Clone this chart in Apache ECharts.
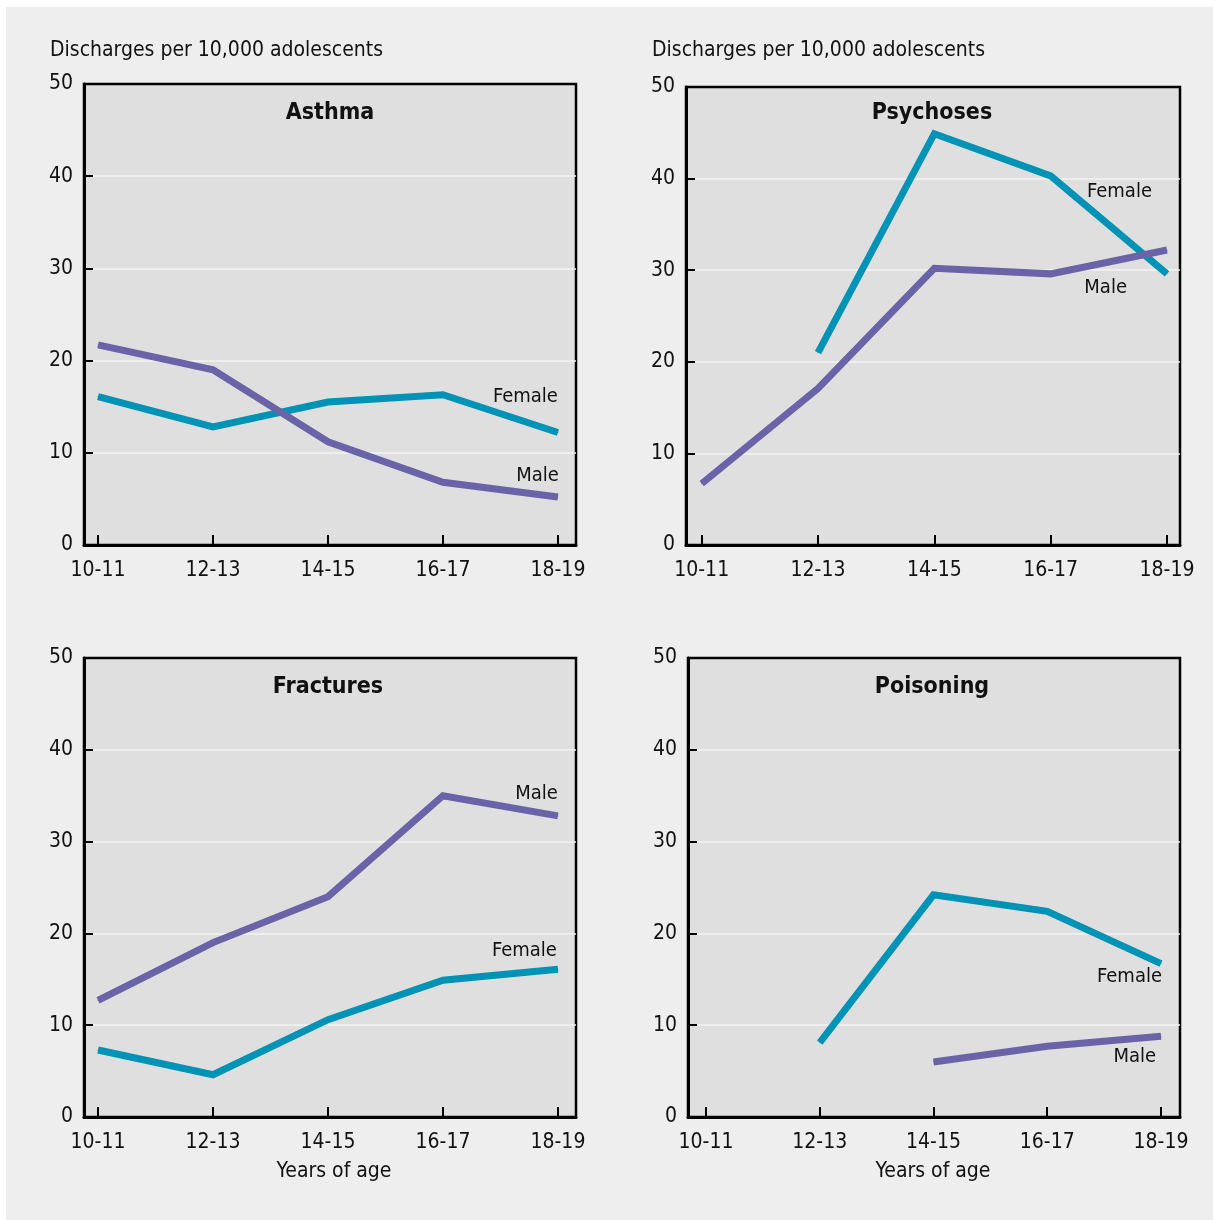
<!DOCTYPE html>
<html>
<head>
<meta charset="utf-8">
<script src="https://cdn.jsdelivr.net/npm/echarts@6/dist/echarts.min.js"></script>
<style>
  html, body { margin: 0; padding: 0; background: #ffffff; }
  #chart { position: absolute; left: 6px; top: 7px; width: 1207px; height: 1213px; }
</style>
</head>
<body>
<div id="chart"></div>
<script>
// ---- Data ----
const ageGroups = ['10-11', '12-13', '14-15', '16-17', '18-19'];
const yTicks = [0, 10, 20, 30, 40, 50];

const panelTitles = ['Asthma', 'Psychoses', 'Fractures', 'Poisoning'];

const asthmaFemale = [16.1, 12.8, 15.5, 16.3, 12.2];
const asthmaMale = [21.7, 19.0, 11.2, 6.8, 5.2];

const psychosesFemale = [null, 21.0, 44.9, 40.3, 29.6];
const psychosesMale = [6.7, 17.1, 30.2, 29.6, 32.2];

const fracturesFemale = [7.3, 4.6, 10.6, 14.9, 16.1];
const fracturesMale = [12.7, 19.0, 24.0, 35.0, 32.8];

const poisoningFemale = [null, 8.1, 24.2, 22.4, 16.7];
const poisoningMale = [null, null, 6.0, 7.7, 8.8];

const yCaption = 'Discharges per 10,000 adolescents';
const xCaption = 'Years of age';

// ---- Style ----
const FONT = "'Liberation Sans Narrow', 'DejaVu Sans Condensed', 'Arial Narrow', sans-serif";
const TEAL = '#0093b6';
const PURPLE = '#6b63a8';
const TXT = '#111111';

const grids = [
  { left: 78, top: 77, width: 492, height: 461 },
  { left: 680, top: 80, width: 494, height: 458 },
  { left: 78, top: 651, width: 492, height: 459 },
  { left: 682, top: 651, width: 492, height: 459 }
];
const xRanges = [
  [-0.122, 4.157],
  [-0.135, 4.112],
  [-0.122, 4.157],
  [-0.158, 4.167]
];

const panelSeries = [
  [
    { name: 'Female', data: asthmaFemale, color: TEAL, offset: [0, -36] },
    { name: 'Male', data: asthmaMale, color: PURPLE, offset: [1, -21] }
  ],
  [
    { name: 'Female', data: psychosesFemale, color: TEAL, offset: [-15, -82] },
    { name: 'Male', data: psychosesMale, color: PURPLE, offset: [-40, 38] }
  ],
  [
    { name: 'Female', data: fracturesFemale, color: TEAL, offset: [-1, -18] },
    { name: 'Male', data: fracturesMale, color: PURPLE, offset: [0, -22] }
  ],
  [
    { name: 'Female', data: poisoningFemale, color: TEAL, offset: [1, 13] },
    { name: 'Male', data: poisoningMale, color: PURPLE, offset: [-5, 21] }
  ]
];

const idx = ageGroups.map((_, i) => i);

const option = {
  backgroundColor: '#eeeeee',
  animation: false,
  grid: grids.map(g => Object.assign({
    show: true,
    backgroundColor: '#dfdfdf',
    borderColor: '#000',
    borderWidth: 2.5,
    containLabel: false
  }, g)),
  xAxis: grids.map((g, i) => ({
    type: 'value',
    gridIndex: i,
    min: xRanges[i][0],
    max: xRanges[i][1],
    axisLine: { show: true, onZero: false, lineStyle: { color: '#000', width: 3 } },
    axisTick: { show: true, inside: true, length: 10, customValues: idx, lineStyle: { color: '#000', width: 2 } },
    axisLabel: {
      show: true, customValues: idx, margin: 15,
      formatter: v => ageGroups[Math.round(v)],
      fontFamily: FONT, fontSize: 21, color: TXT
    },
    splitLine: { show: false }
  })),
  yAxis: grids.map((g, i) => ({
    type: 'value',
    gridIndex: i,
    min: yTicks[0],
    max: yTicks[yTicks.length - 1],
    interval: 10,
    axisLine: { show: true, onZero: false, lineStyle: { color: '#000', width: 3 } },
    axisTick: { show: true, inside: true, length: 9, lineStyle: { color: '#000', width: 2 } },
    axisLabel: { margin: 11, padding: [7, 0, 0, 0], fontFamily: FONT, fontSize: 21, color: TXT },
    splitLine: { show: true, showMinLine: false, showMaxLine: false, lineStyle: { color: '#f3f3f3', width: 1.5 } }
  })),
  series: [],
  graphic: []
};

panelSeries.forEach((list, p) => {
  list.forEach(s => {
    const pts = [];
    s.data.forEach((v, i) => { if (v !== null) pts.push([i, v]); });
    const last = pts.length - 1;
    const data = pts.map((pt, k) => k === last ? {
      value: pt,
      label: {
        show: true, formatter: s.name, position: 'inside',
        align: 'right', verticalAlign: 'middle', offset: s.offset,
        fontFamily: FONT, fontSize: 20, color: TXT
      }
    } : { value: pt });
    option.series.push({
      type: 'line',
      name: s.name + p,
      xAxisIndex: p,
      yAxisIndex: p,
      data: data,
      symbol: 'circle',
      symbolSize: 1,
      showSymbol: true,
      itemStyle: { color: s.color },
      lineStyle: { color: s.color, width: 7, cap: 'butt', join: 'miter' },
      emphasis: { disabled: true },
      silent: true,
      z: 3
    });
  });
});

// captions and panel titles
const titlePos = [[324, 106], [926, 106], [322, 680], [926, 680]];
panelTitles.forEach((t, i) => {
  option.graphic.push({
    type: 'text', x: titlePos[i][0], y: titlePos[i][1], z: 10,
    style: { text: t, fontFamily: FONT, fontSize: 23, fontWeight: 'bold', fill: TXT, textAlign: 'center', textVerticalAlign: 'middle' }
  });
});
[[44, 44], [646, 44]].forEach(pos => {
  option.graphic.push({
    type: 'text', x: pos[0], y: pos[1], z: 10,
    style: { text: yCaption, fontFamily: FONT, fontSize: 21, fill: TXT, textAlign: 'left', textVerticalAlign: 'middle' }
  });
});
[[328, 1165], [927, 1165]].forEach(pos => {
  option.graphic.push({
    type: 'text', x: pos[0], y: pos[1], z: 10,
    style: { text: xCaption, fontFamily: FONT, fontSize: 21, fill: TXT, textAlign: 'center', textVerticalAlign: 'middle' }
  });
});

const chart = echarts.init(document.getElementById('chart'));
chart.setOption(option);
</script>
</body>
</html>
